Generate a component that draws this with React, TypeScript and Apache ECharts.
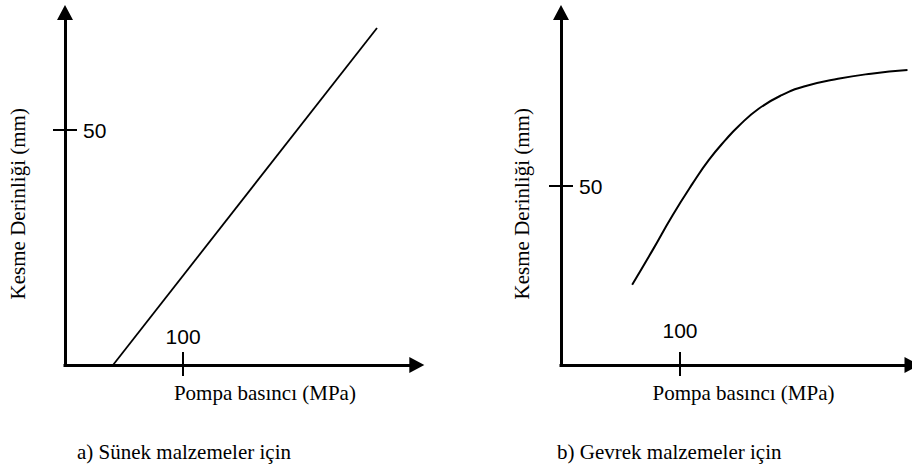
import React, { useEffect, useRef } from "react";
import * as echarts from "echarts";

// ---- data ----
const xTickValues = [100];
const yTickValues = [50];
const xMaxLeft = 298;
const xMaxRight = 295;
const yMaxLeft = 75;
const yMaxRight = 98.5;
const ductileLine: [number, number][] = [
  [40.7, 0],
  [264.3, 71.7],
];
const brittleCurve: [number, number][] = [
  [59.8, 22.4],
  [77.0, 32.1],
  [93.7, 41.8],
  [110.4, 50.6],
  [124.3, 57.3],
  [138.3, 62.9],
  [149.4, 66.8],
  [166.1, 71.6],
  [185.5, 75.4],
  [205.0, 77.9],
  [232.8, 80.0],
  [260.6, 81.4],
  [291.2, 82.4],
];
const xAxisTitle = "Pompa basıncı (MPa)";
const yAxisTitle = "Kesme Derinliği (mm)";
const captions = ["a) Sünek malzemeler için", "b) Gevrek malzemeler için"];

const SERIF = '"Liberation Serif", "Times New Roman", serif';
const SANS = '"Liberation Sans", Arial, sans-serif';

function mainX(gridIndex: number, max: number, labelMargin: number, namePadLeft: number) {
  return {
    type: "value",
    gridIndex,
    min: 0,
    max,
    axisLine: {
      show: true,
      onZero: false,
      symbol: ["none", "triangle"],
      symbolSize: [16, 15],
      lineStyle: { color: "#000", width: 3, cap: "square" },
    },
    axisTick: {
      show: true,
      inside: true,
      length: 13,
      customValues: xTickValues,
      lineStyle: { color: "#000", width: 2 },
    },
    axisLabel: {
      show: true,
      inside: true,
      margin: labelMargin,
      customValues: xTickValues,
      color: "#000",
      fontFamily: SANS,
      fontSize: 21,
    },
    splitLine: { show: false },
    name: xAxisTitle,
    nameLocation: "middle",
    nameGap: 17,
    nameTextStyle: {
      color: "#000",
      fontFamily: SERIF,
      fontSize: 21,
      padding: [0, 0, 0, namePadLeft],
    },
  };
}

function tickX(gridIndex: number, max: number) {
  return {
    type: "value",
    gridIndex,
    min: 0,
    max,
    axisLine: { show: false, onZero: false },
    axisTick: {
      show: true,
      inside: false,
      length: 11,
      customValues: xTickValues,
      lineStyle: { color: "#000", width: 2 },
    },
    axisLabel: { show: false },
    splitLine: { show: false },
  };
}

function mainY(gridIndex: number, max: number, nameGap: number) {
  return {
    type: "value",
    gridIndex,
    min: 0,
    max,
    axisLine: {
      show: true,
      onZero: false,
      symbol: ["none", "triangle"],
      symbolSize: [16, 15],
      lineStyle: { color: "#000", width: 3, cap: "square" },
    },
    axisTick: {
      show: true,
      inside: true,
      length: 12,
      customValues: yTickValues,
      lineStyle: { color: "#000", width: 2 },
    },
    axisLabel: {
      show: true,
      inside: true,
      margin: 18,
      customValues: yTickValues,
      color: "#000",
      fontFamily: SANS,
      fontSize: 21,
    },
    splitLine: { show: false },
    name: yAxisTitle,
    nameLocation: "middle",
    nameRotate: 90,
    nameGap,
    nameTextStyle: {
      color: "#000",
      fontFamily: SERIF,
      fontSize: 21,
      padding: [0, 30, 0, 0],
    },
  };
}

function tickY(gridIndex: number, max: number) {
  return {
    type: "value",
    gridIndex,
    min: 0,
    max,
    axisLine: { show: false, onZero: false },
    axisTick: {
      show: true,
      inside: false,
      length: 12,
      customValues: yTickValues,
      lineStyle: { color: "#000", width: 2 },
    },
    axisLabel: { show: false },
    splitLine: { show: false },
  };
}

export default function App() {
  const ref = useRef<HTMLDivElement>(null);

  useEffect(() => {
    if (!ref.current) return;
    const chart = echarts.init(ref.current, undefined, { renderer: "svg" });
    const leftGrid = { left: 65, top: 12.5, right: 912 - 416.8, bottom: 103 };
    const rightGrid = { left: 561, top: 12.5, right: -3, bottom: 103 };
    chart.setOption({
      animation: false,
      backgroundColor: "#fff",
      grid: [leftGrid, leftGrid, rightGrid, rightGrid].map((g) => ({ ...g, containLabel: false })),
      xAxis: [
        mainX(0, xMaxLeft, 18, 48),
        tickX(1, xMaxLeft),
        mainX(2, xMaxRight, 24, 14),
        tickX(3, xMaxRight),
      ],
      yAxis: [
        mainY(0, yMaxLeft, 37),
        tickY(1, yMaxLeft),
        mainY(2, yMaxRight, 29),
        tickY(3, yMaxRight),
      ],
      series: [
        {
          type: "line",
          xAxisIndex: 0,
          yAxisIndex: 0,
          data: ductileLine,
          symbol: "none",
          lineStyle: { color: "#000", width: 1.8 },
        },
        {
          type: "line",
          xAxisIndex: 2,
          yAxisIndex: 2,
          data: brittleCurve,
          symbol: "none",
          smooth: 0.5,
          lineStyle: { color: "#000", width: 2 },
        },
      ],
      graphic: captions.map((text, i) => ({
        type: "text",
        x: i === 0 ? 77 : 557,
        y: 452,
        style: {
          text,
          fill: "#000",
          fontFamily: SERIF,
          fontSize: 21,
          align: "left",
          verticalAlign: "middle",
        },
      })),
    });
    return () => chart.dispose();
  }, []);

  return (
    <div
      ref={ref}
      style={{ position: "fixed", left: 0, top: 0, width: 912, height: 468, background: "#fff" }}
    />
  );
}
